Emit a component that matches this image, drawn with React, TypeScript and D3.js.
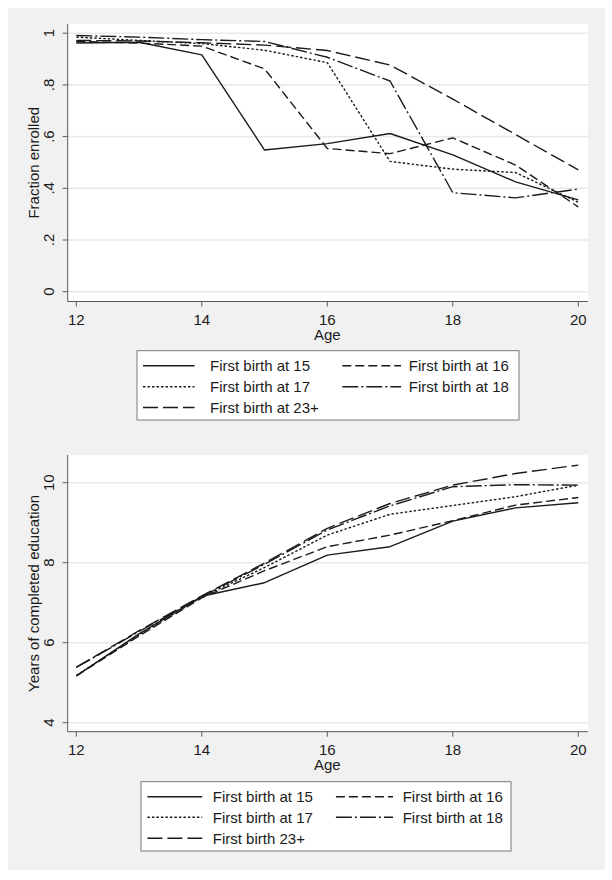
import React from 'react';
import * as d3 from 'd3';

// ---------- data ----------
const ages = [12, 13, 14, 15, 16, 17, 18, 19, 20];

const enrolledFB15 = [0.962, 0.965, 0.916, 0.548, 0.573, 0.612, 0.529, 0.425, 0.355];
const enrolledFB16 = [0.968, 0.962, 0.950, 0.862, 0.554, 0.534, 0.595, 0.490, 0.328];
const enrolledFB17 = [0.985, 0.972, 0.960, 0.934, 0.886, 0.504, 0.474, 0.461, 0.346];
const enrolledFB18 = [0.991, 0.985, 0.975, 0.968, 0.907, 0.815, 0.383, 0.363, 0.397];
const enrolledFB23 = [0.972, 0.970, 0.963, 0.954, 0.933, 0.877, 0.745, 0.608, 0.471];

const educFB15 = [5.17, 6.22, 7.16, 7.50, 8.19, 8.40, 9.04, 9.37, 9.50];
const educFB16 = [5.17, 6.17, 7.12, 7.80, 8.40, 8.69, 9.05, 9.44, 9.63];
const educFB17 = [5.18, 6.20, 7.14, 7.88, 8.69, 9.21, 9.43, 9.65, 9.94];
const educFB18 = [5.38, 6.28, 7.15, 7.96, 8.82, 9.42, 9.90, 9.95, 9.94];
const educFB23 = [5.39, 6.30, 7.17, 7.99, 8.86, 9.48, 9.94, 10.23, 10.44];

const ageTicks = [12, 14, 16, 18, 20];
const enrolledTicks = [0, 0.2, 0.4, 0.6, 0.8, 1];
const enrolledTickLabels = ['0', '.2', '.4', '.6', '.8', '1'];
const educTicks = [4, 6, 8, 10];
const educTickLabels = ['4', '6', '8', '10'];

const topLegendLabels = ['First birth at 15', 'First birth at 16', 'First birth at 17', 'First birth at 18', 'First birth at 23+'];
const bottomLegendLabels = ['First birth at 15', 'First birth at 16', 'First birth at 17', 'First birth at 18', 'First birth 23+'];

// ---------- styles ----------
const DASHES = ['none', '9,4', '2.5,2', '16,3,2,3', '15,5'];
const FONT = '"Liberation Sans", Arial, Helvetica, sans-serif';
const INK = '#1b1b1b';
const AXIS = '#5a5a5a';
const GRID = '#e9e9e9';
const BG = '#f1f1f1';

type PanelProps = {
  series: number[][];
  ticks: number[];
  tickLabels: string[];
  yDomain: [number, number];
  yRange: [number, number];
  plotTop: number;
  axisY: number;
  yTitle: string;
  legendLabels: string[];
  legend: { x0: number; x1: number; y0: number; y1: number; rows: number[]; c1: [number, number, number]; c2: [number, number, number] };
};

const PLOT_LEFT = 67.7;
const PLOT_RIGHT = 588;

function Panel(p: PanelProps) {
  const x = d3.scaleLinear().domain([12, 20]).range([76.3, 578.3]);
  const y = d3.scaleLinear().domain(p.yDomain).range(p.yRange);
  const line = d3
    .line<number>()
    .x((_, i) => x(ages[i]))
    .y((d) => y(d));
  const midY = (p.plotTop + p.axisY) / 2;
  const L = p.legend;
  return (
    <g>
      <rect x={PLOT_LEFT} y={p.plotTop} width={PLOT_RIGHT - PLOT_LEFT} height={p.axisY - p.plotTop} fill="#ffffff" />
      {p.ticks.map((t) => (
        <line key={'g' + t} x1={PLOT_LEFT} x2={PLOT_RIGHT} y1={y(t)} y2={y(t)} stroke={GRID} strokeWidth={1.6} />
      ))}
      {p.series.map((s, i) => (
        <path
          key={'s' + i}
          d={line(s) || ''}
          fill="none"
          stroke={INK}
          strokeWidth={1.4}
          strokeDasharray={DASHES[i]}
          strokeLinejoin="round"
        />
      ))}
      {/* axes */}
      <line x1={PLOT_LEFT} x2={PLOT_LEFT} y1={p.plotTop} y2={p.axisY} stroke={AXIS} strokeWidth={1} />
      <line x1={PLOT_LEFT} x2={PLOT_RIGHT} y1={p.axisY} y2={p.axisY} stroke={AXIS} strokeWidth={1} />
      {p.ticks.map((t, i) => (
        <g key={'yt' + t}>
          <line x1={PLOT_LEFT - 5} x2={PLOT_LEFT} y1={y(t)} y2={y(t)} stroke={AXIS} strokeWidth={1} />
          <text
            transform={`translate(54,${y(t)}) rotate(-90)`}
            textAnchor="middle"
            fontSize={15}
            fontFamily={FONT}
            fill={INK}
          >
            {p.tickLabels[i]}
          </text>
        </g>
      ))}
      {ageTicks.map((t) => (
        <g key={'xt' + t}>
          <line x1={x(t)} x2={x(t)} y1={p.axisY} y2={p.axisY + 5} stroke={AXIS} strokeWidth={1} />
          <text x={x(t)} y={p.axisY + 23.5} textAnchor="middle" fontSize={15} fontFamily={FONT} fill={INK}>
            {t}
          </text>
        </g>
      ))}
      <text x={x(16)} y={p.axisY + 38.5} textAnchor="middle" fontSize={15} fontFamily={FONT} fill={INK}>
        Age
      </text>
      <text
        transform={`translate(39,${midY}) rotate(-90)`}
        textAnchor="middle"
        fontSize={15}
        fontFamily={FONT}
        fill={INK}
      >
        {p.yTitle}
      </text>
      {/* legend */}
      <rect x={L.x0} y={L.y0} width={L.x1 - L.x0} height={L.y1 - L.y0} fill="#ffffff" stroke="#7a7a7a" strokeWidth={1} />
      {p.legendLabels.map((lab, i) => {
        const col = i % 2 === 0 ? L.c1 : L.c2;
        const ry = L.rows[Math.floor(i / 2)];
        return (
          <g key={'l' + i}>
            <line x1={col[0]} x2={col[1]} y1={ry} y2={ry} stroke={INK} strokeWidth={1.4} strokeDasharray={DASHES[i]} />
            <text x={col[2]} y={ry + 5.3} fontSize={15} fontFamily={FONT} fill={INK}>
              {lab}
            </text>
          </g>
        );
      })}
    </g>
  );
}

export default function App() {
  return (
    <svg
      width={612}
      height={880}
      style={{ position: 'absolute', left: 0, top: 0, background: '#ffffff' }}
      xmlns="http://www.w3.org/2000/svg"
    >
      <rect x={0} y={0} width={612} height={880} fill="#ffffff" />
      <rect x={8} y={8} width={597} height={862} fill={BG} />
      <Panel
        series={[enrolledFB15, enrolledFB16, enrolledFB17, enrolledFB18, enrolledFB23]}
        ticks={enrolledTicks}
        tickLabels={enrolledTickLabels}
        yDomain={[0, 1]}
        yRange={[291.7, 33.2]}
        plotTop={24}
        axisY={301.5}
        yTitle="Fraction enrolled"
        legendLabels={topLegendLabels}
        legend={{ x0: 137, x1: 519, y0: 350.7, y1: 420, rows: [365.7, 386.7, 407.5], c1: [143, 194.5, 210], c2: [342.3, 401, 408.8] }}
      />
      <Panel
        series={[educFB15, educFB16, educFB17, educFB18, educFB23]}
        ticks={educTicks}
        tickLabels={educTickLabels}
        yDomain={[4, 10]}
        yRange={[722.7, 482.7]}
        plotTop={455}
        axisY={731.7}
        yTitle="Years of completed education"
        legendLabels={bottomLegendLabels}
        legend={{ x0: 141, x1: 511, y0: 781.7, y1: 851, rows: [796.7, 817.3, 838.3], c1: [147.4, 202.2, 212.8], c2: [335.9, 393, 402.7] }}
      />
    </svg>
  );
}
